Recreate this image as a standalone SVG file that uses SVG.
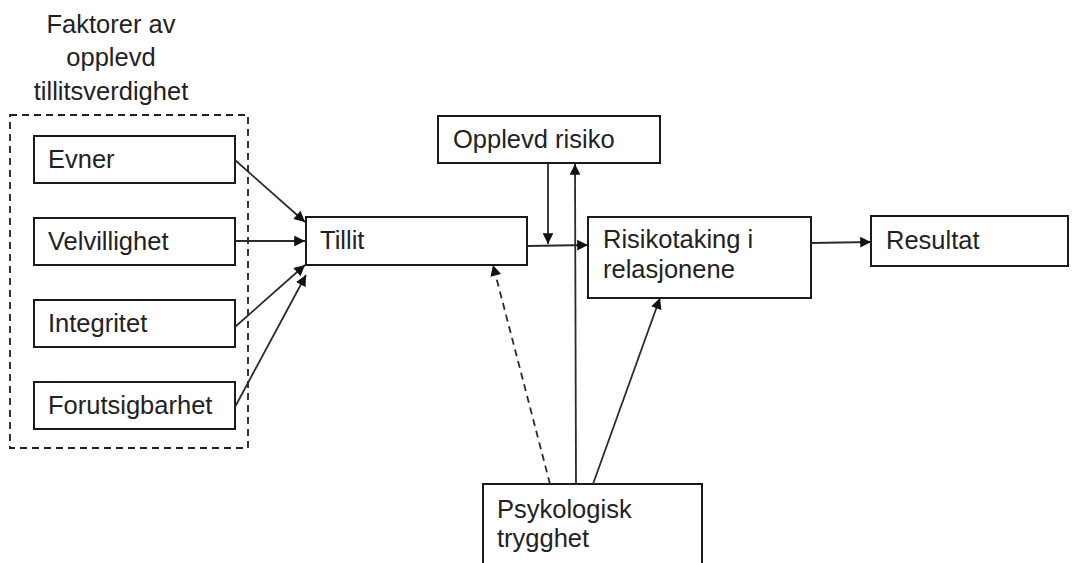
<svg xmlns="http://www.w3.org/2000/svg" width="1081" height="563" viewBox="0 0 1081 563">
<style>
.box{fill:#fff;stroke:#1a1a1a;stroke-width:2}
.t{font-family:"Liberation Sans",Arial,sans-serif;font-size:25.5px;fill:#222}
.c{stroke:#2a2a2a;stroke-width:1.8;fill:none}
.d{stroke-dasharray:7,5}
</style>
<defs>
<marker id="ah" viewBox="0 0 10 10" refX="10" refY="5" markerWidth="6.5" markerHeight="6" orient="auto" markerUnits="strokeWidth">
<path d="M0,0 L10,5 L0,10 z" fill="#111"/>
</marker>
</defs>
<rect width="1081" height="563" fill="#fff"/>
<g id="factors">
<text class="t" text-anchor="middle" x="111" y="33">Faktorer av</text>
<text class="t" text-anchor="middle" x="111" y="66">opplevd</text>
<text class="t" text-anchor="middle" x="111" y="100">tillitsverdighet</text>
<rect x="10" y="115" width="238" height="333" fill="none" stroke="#222" stroke-width="1.8" stroke-dasharray="7,5"/>
</g>
<g id="evner"><rect class="box" x="34" y="136" width="201" height="47"/><text class="t" x="48" y="168">Evner</text></g>
<g id="velvillighet"><rect class="box" x="34" y="218" width="201" height="47"/><text class="t" x="48" y="250">Velvillighet</text></g>
<g id="integritet"><rect class="box" x="34" y="300" width="201" height="47"/><text class="t" x="48" y="332">Integritet</text></g>
<g id="forutsigbarhet"><rect class="box" x="34" y="382" width="201" height="47"/><text class="t" x="48" y="414">Forutsigbarhet</text></g>
<g id="tillit"><rect class="box" x="306" y="217" width="221" height="48"/><text class="t" x="320" y="249">Tillit</text></g>
<g id="opplevd-risiko"><rect class="box" x="438" y="116" width="222" height="47"/><text class="t" x="453" y="148">Opplevd risiko</text></g>
<g id="risikotaking"><rect class="box" x="588" y="217" width="223" height="81"/><text class="t" x="603" y="248">Risikotaking i</text><text class="t" x="603" y="278">relasjonene</text></g>
<g id="resultat"><rect class="box" x="871" y="216" width="197" height="50"/><text class="t" x="886" y="249">Resultat</text></g>
<g id="psykologisk"><rect class="box" x="483" y="484" width="219" height="90"/><text class="t" x="497" y="518">Psykologisk</text><text class="t" x="497" y="547">trygghet</text></g>
<g id="connectors">
<line class="c" x1="235" y1="160" x2="305" y2="222" marker-end="url(#ah)"/>
<line class="c" x1="235" y1="241" x2="305" y2="241" marker-end="url(#ah)"/>
<line class="c" x1="235" y1="327" x2="305" y2="265" marker-end="url(#ah)"/>
<line class="c" x1="235" y1="407" x2="306" y2="275" marker-end="url(#ah)"/>
<line class="c" x1="527" y1="246" x2="588" y2="245" marker-end="url(#ah)"/>
<line class="c" x1="548" y1="163" x2="548" y2="244" marker-end="url(#ah)"/>
<line class="c" x1="576" y1="484" x2="575" y2="164" marker-end="url(#ah)"/>
<line class="c d" x1="550" y1="484" x2="493" y2="265" marker-end="url(#ah)"/>
<line class="c" x1="593" y1="484" x2="660" y2="298" marker-end="url(#ah)"/>
<line class="c" x1="811" y1="243" x2="871" y2="242" marker-end="url(#ah)"/>
</g>
</svg>
